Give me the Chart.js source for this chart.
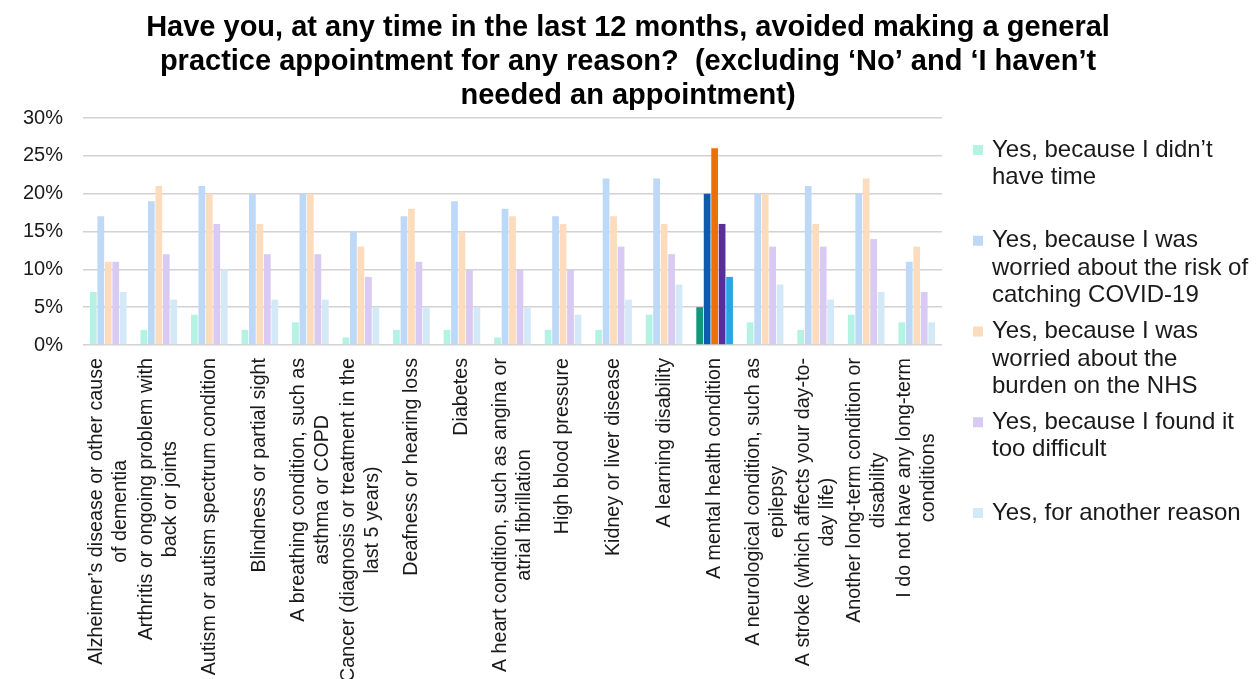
<!DOCTYPE html>
<html><head><meta charset="utf-8">
<script src="https://cdn.jsdelivr.net/npm/chart.js@4/dist/chart.umd.min.js"></script>
<style>html,body{margin:0;padding:0;background:#fff;} #wrap{position:relative;width:1256px;height:679px;}</style>
</head><body><div id="wrap"><canvas id="c" width="1256" height="679"></canvas></div>
<script>
const titleLines = [
  "Have you, at any time in the last 12 months, avoided making a general",
  "practice appointment for any reason?  (excluding \u2018No\u2019 and \u2018I haven\u2019t",
  "needed an appointment)"
];
const categories = [
  ["Alzheimer\u2019s disease or other cause", "of dementia"],
  ["Arthritis or ongoing problem with", "back or joints"],
  ["Autism or autism spectrum condition"],
  ["Blindness or partial sight"],
  ["A breathing condition, such as", "asthma or COPD"],
  ["Cancer (diagnosis or treatment in the", "last 5 years)"],
  ["Deafness or hearing loss"],
  ["Diabetes"],
  ["A heart condition, such as angina or", "atrial fibrillation"],
  ["High blood pressure"],
  ["Kidney or liver disease"],
  ["A learning disability"],
  ["A mental health condition"],
  ["A neurological condition, such as", "epilepsy"],
  ["A stroke (which affects your day-to-", "day life)"],
  ["Another long-term condition or", "disability"],
  ["I do not have any long-term", "conditions"]
];
const highlightCategory = "A mental health condition";
const seriesNames = [
  ["Yes, because I didn\u2019t", "have time"],
  ["Yes, because I was", "worried about the risk of", "catching COVID-19"],
  ["Yes, because I was", "worried about the", "burden on the NHS"],
  ["Yes, because I found it", "too difficult"],
  ["Yes, for another reason"]
];
const noTime        = [7, 2, 4, 2, 3, 1, 2, 2, 1, 2, 2, 4, 5, 3, 2, 4, 3];
const worriedCovid  = [17,19,21,20,20,15,17,19,18,17,22,22,20,20,21,20,11];
const worriedNHS    = [11,21,20,16,20,13,18,15,17,16,17,16,26,20,16,22,13];
const tooDifficult  = [11,12,16,12,12, 9,11,10,10,10,13,12,16,13,13,14, 7];
const anotherReason = [7, 6,10, 6, 6, 5, 5, 5, 5, 4, 6, 8, 9, 8, 6, 7, 3];
const yTicks = [0, 5, 10, 15, 20, 25, 30];

const paleColors = ["#b4f3e4", "#bdd9f7", "#fddcbd", "#d8caf2", "#d4e9f7"];
const strongColors = ["#10987a", "#0b5cb0", "#ec7006", "#5a2e9a", "#28a6e2"];
const FONT = '"Liberation Sans", Arial, sans-serif';

const labelsJoined = categories.map(l => l.join(" "));
const hiIdx = labelsJoined.indexOf(highlightCategory);
const seriesValues = [noTime, worriedCovid, worriedNHS, tooDifficult, anotherReason];

const datasets = seriesValues.map((vals, s) => ({
  label: seriesNames[s].join(" "),
  data: vals,
  backgroundColor: vals.map((v, i) => i === hiIdx ? strongColors[s] : paleColors[s]),
  borderWidth: 0,
  categoryPercentage: 0.74,
  barPercentage: 0.9
}));

const titlePlugin = {
  id: "pageTitle",
  afterDraw(chart) {
    const ctx = chart.ctx;
    ctx.save();
    ctx.font = "bold 29px " + FONT;
    ctx.fillStyle = "#000";
    ctx.textAlign = "center";
    ctx.textBaseline = "middle";
    titleLines.forEach((l, i) => ctx.fillText(l, chart.width / 2, 28 + i * 34));
    ctx.restore();
  }
};

const xLabelPlugin = {
  id: "xLabels",
  afterDraw(chart) {
    const ctx = chart.ctx, xs = chart.scales.x;
    const top = chart.chartArea.bottom + 13;
    const lh = 24;
    ctx.save();
    ctx.font = "19.7px " + FONT;
    ctx.fillStyle = "#1a1a1a";
    categories.forEach((lines, i) => {
      const px = xs.getPixelForValue(i);
      const maxW = Math.max(...lines.map(l => ctx.measureText(l).width));
      const cy = top + maxW / 2;
      lines.forEach((l, j) => {
        const cx = px + (j - (lines.length - 1) / 2) * lh;
        ctx.save();
        ctx.translate(cx, cy);
        ctx.rotate(-Math.PI / 2);
        ctx.textAlign = "center";
        ctx.textBaseline = "middle";
        ctx.fillText(l, 0, 0);
        ctx.restore();
      });
    });
    ctx.restore();
  }
};

const legendPlugin = {
  id: "sideLegend",
  afterDraw(chart) {
    const ctx = chart.ctx;
    const mx = 973, tx = 992, startY = 150, step = 90.75, lh = 27.5;
    ctx.save();
    ctx.font = "24px " + FONT;
    ctx.textBaseline = "middle";
    ctx.textAlign = "left";
    seriesNames.forEach((lines, s) => {
      const y = startY + s * step;
      ctx.fillStyle = paleColors[s];
      ctx.fillRect(mx, y - 5, 10, 10);
      ctx.fillStyle = "#1a1a1a";
      lines.forEach((l, j) => ctx.fillText(l, tx, y + j * lh));
    });
    ctx.restore();
  }
};

new Chart(document.getElementById("c"), {
  type: "bar",
  data: { labels: labelsJoined, datasets },
  options: {
    responsive: false,
    animation: false,
    layout: { padding: { left: 0, right: 314, top: 118, bottom: 334 } },
    plugins: {
      legend: { display: false },
      tooltip: { enabled: false },
      title: { display: false }
    },
    scales: {
      x: {
        display: false
      },
      y: {
        min: yTicks[0],
        max: yTicks[yTicks.length - 1],
        afterFit(scale) { scale.width = 83; },
        afterBuildTicks(scale) { scale.ticks = yTicks.map(v => ({ value: v })); },
        grid: { color: "#d2d2d2", lineWidth: 1.5, drawTicks: false },
        border: { display: false },
        ticks: {
          padding: 20,
          color: "#1a1a1a",
          font: { family: FONT, size: 20 },
          callback: v => v + "%"
        }
      }
    }
  },
  plugins: [titlePlugin, xLabelPlugin, legendPlugin]
});
</script>
</body></html>
